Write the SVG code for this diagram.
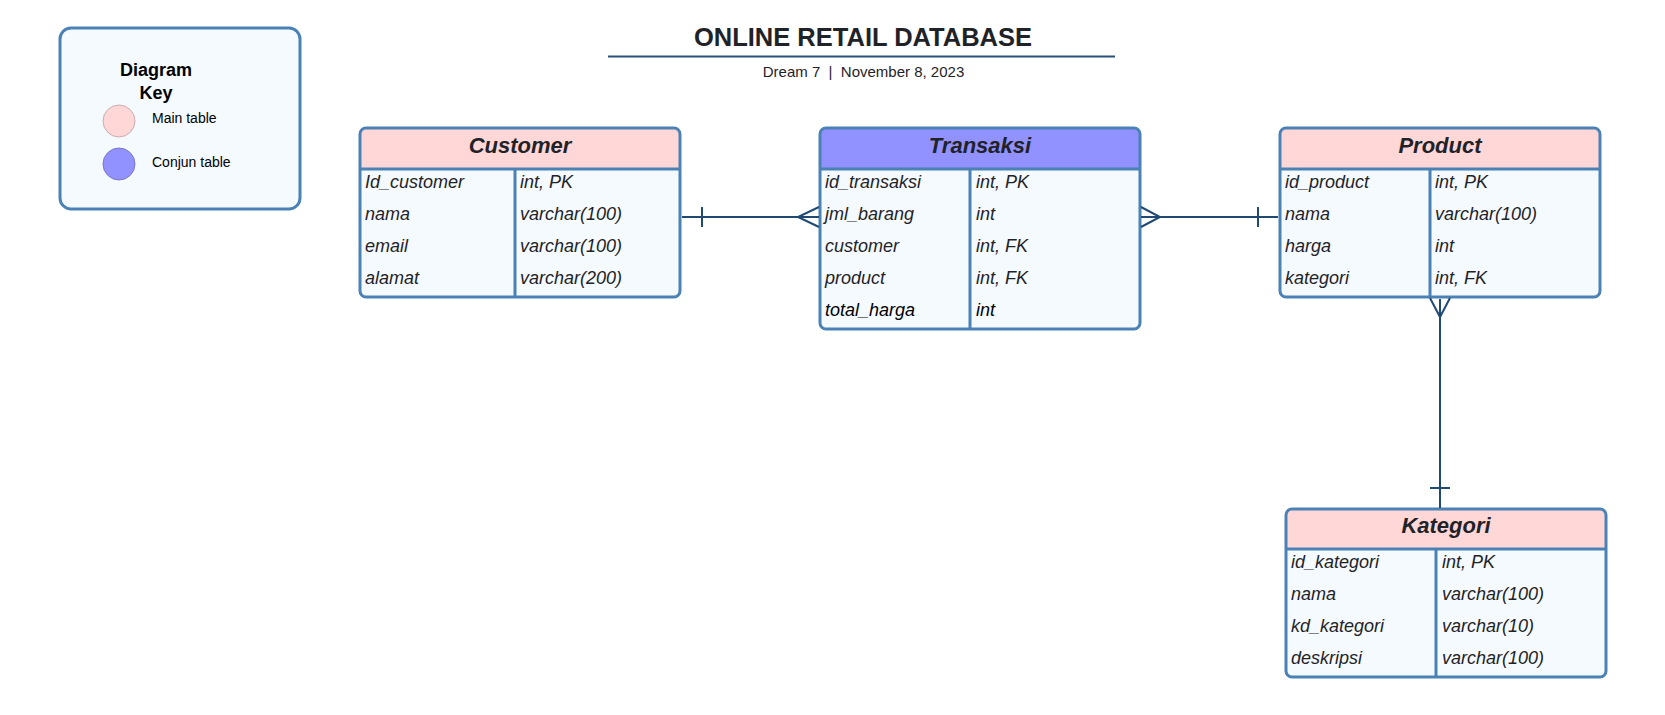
<svg xmlns="http://www.w3.org/2000/svg" width="1665" height="715" viewBox="0 0 1665 715">
<style>
.bg{fill:#ffffff}
.border{fill:none;stroke:#4b82b6;stroke-width:3}
.body{fill:#f5faff}
.main{fill:#ffd7d7}
.conj{fill:#9191ff}
.sep{stroke:#4b82b6;stroke-width:3}
.ttl{font-family:"Liberation Sans",Arial,sans-serif;font-size:22px;font-weight:bold;font-style:italic;fill:#1f2328;text-anchor:middle}
.row{font-family:"Liberation Sans",Arial,sans-serif;font-size:18px;font-style:italic;fill:#1f2328}
.blk{fill:#000000}
.conn{fill:none;stroke:#204a73;stroke-width:2}
.h1{font-family:"Liberation Sans",Arial,sans-serif;font-size:25.5px;font-weight:bold;fill:#1f2328;text-anchor:middle}
.sub{font-family:"Liberation Sans",Arial,sans-serif;font-size:15px;fill:#1f2328;text-anchor:middle;white-space:pre}
.key{font-family:"Liberation Sans",Arial,sans-serif;font-size:18px;font-weight:bold;fill:#000;text-anchor:middle}
.keyl{font-family:"Liberation Sans",Arial,sans-serif;font-size:14px;fill:#000}
</style>
<rect class="bg" x="0" y="0" width="1665" height="715"/>

<g id="title">
<text class="h1" x="863" y="46">ONLINE RETAIL DATABASE</text>
<line x1="608" y1="56.5" x2="1115" y2="56.5" stroke="#2b5078" stroke-width="2"/>
<text class="sub" x="863.5" y="77" xml:space="preserve">Dream 7  |  November 8, 2023</text>
</g>

<g id="legend">
<rect x="60" y="28" width="240" height="181" rx="11" fill="#f5faff" stroke="#4b82b6" stroke-width="3"/>
<text class="key" x="156" y="76">Diagram</text>
<text class="key" x="156" y="99">Key</text>
<circle cx="119" cy="121" r="16" fill="#ffd7d7" stroke="#c8aeb0" stroke-width="1"/>
<text class="keyl" x="152" y="123">Main table</text>
<circle cx="119" cy="164" r="16" fill="#9191ff" stroke="#7878c8" stroke-width="1"/>
<text class="keyl" x="152" y="167">Conjun table</text>
</g>

<g id="customer">
<rect class="body" x="360" y="128" width="320" height="169" rx="6"/>
<path class="main" d="M360,169 V134 a6,6 0 0 1 6,-6 H674 a6,6 0 0 1 6,6 V169 Z"/>
<line class="sep" x1="360" y1="169" x2="680" y2="169"/>
<line class="sep" x1="515" y1="169" x2="515" y2="297"/>
<rect class="border" x="360" y="128" width="320" height="169" rx="6"/>
<text class="ttl" x="520" y="153">Customer</text>
<text class="row" x="365" y="188">Id_customer</text><text class="row" x="520" y="188">int, PK</text>
<text class="row" x="365" y="220">nama</text><text class="row" x="520" y="220">varchar(100)</text>
<text class="row" x="365" y="252">email</text><text class="row" x="520" y="252">varchar(100)</text>
<text class="row" x="365" y="284">alamat</text><text class="row" x="520" y="284">varchar(200)</text>
</g>

<g id="transaksi">
<rect class="body" x="820" y="128" width="320" height="201" rx="6"/>
<path class="conj" d="M820,169 V134 a6,6 0 0 1 6,-6 H1134 a6,6 0 0 1 6,6 V169 Z"/>
<line class="sep" x1="820" y1="169" x2="1140" y2="169"/>
<line class="sep" x1="970" y1="169" x2="970" y2="329"/>
<rect class="border" x="820" y="128" width="320" height="201" rx="6"/>
<text class="ttl" x="980" y="153">Transaksi</text>
<text class="row" x="825" y="188">id_transaksi</text><text class="row" x="976" y="188">int, PK</text>
<text class="row" x="825" y="220">jml_barang</text><text class="row" x="976" y="220">int</text>
<text class="row" x="825" y="252">customer</text><text class="row" x="976" y="252">int, FK</text>
<text class="row" x="825" y="284">product</text><text class="row" x="976" y="284">int, FK</text>
<text class="row blk" x="825" y="316">total_harga</text><text class="row blk" x="976" y="316">int</text>
</g>

<g id="product">
<rect class="body" x="1280" y="128" width="320" height="169" rx="6"/>
<path class="main" d="M1280,169 V134 a6,6 0 0 1 6,-6 H1594 a6,6 0 0 1 6,6 V169 Z"/>
<line class="sep" x1="1280" y1="169" x2="1600" y2="169"/>
<line class="sep" x1="1430" y1="169" x2="1430" y2="297"/>
<rect class="border" x="1280" y="128" width="320" height="169" rx="6"/>
<text class="ttl" x="1440" y="153">Product</text>
<text class="row" x="1285" y="188">id_product</text><text class="row" x="1435" y="188">int, PK</text>
<text class="row" x="1285" y="220">nama</text><text class="row" x="1435" y="220">varchar(100)</text>
<text class="row" x="1285" y="252">harga</text><text class="row" x="1435" y="252">int</text>
<text class="row" x="1285" y="284">kategori</text><text class="row" x="1435" y="284">int, FK</text>
</g>

<g id="kategori">
<rect class="body" x="1286" y="509" width="320" height="168" rx="6"/>
<path class="main" d="M1286,549 V515 a6,6 0 0 1 6,-6 H1600 a6,6 0 0 1 6,6 V549 Z"/>
<line class="sep" x1="1286" y1="549" x2="1606" y2="549"/>
<line class="sep" x1="1436" y1="549" x2="1436" y2="677"/>
<rect class="border" x="1286" y="509" width="320" height="168" rx="6"/>
<text class="ttl" x="1446" y="533">Kategori</text>
<text class="row" x="1291" y="568">id_kategori</text><text class="row" x="1442" y="568">int, PK</text>
<text class="row" x="1291" y="600">nama</text><text class="row" x="1442" y="600">varchar(100)</text>
<text class="row" x="1291" y="632">kd_kategori</text><text class="row" x="1442" y="632">varchar(10)</text>
<text class="row" x="1291" y="664">deskripsi</text><text class="row" x="1442" y="664">varchar(100)</text>
</g>

<g id="connectors">
<path class="conn" d="M682,217 H819"/>
<path class="conn" d="M702,207 V227"/>
<path class="conn" d="M819,207 L798,217 L819,227"/>
<path class="conn" d="M1141,217 H1278"/>
<path class="conn" d="M1258,207 V227"/>
<path class="conn" d="M1141,207 L1160,217 L1141,227"/>
<path class="conn" d="M1440,299 V508"/>
<path class="conn" d="M1430,298 L1440,317 L1450,298"/>
<path class="conn" d="M1430,488 H1450"/>
</g>
</svg>
